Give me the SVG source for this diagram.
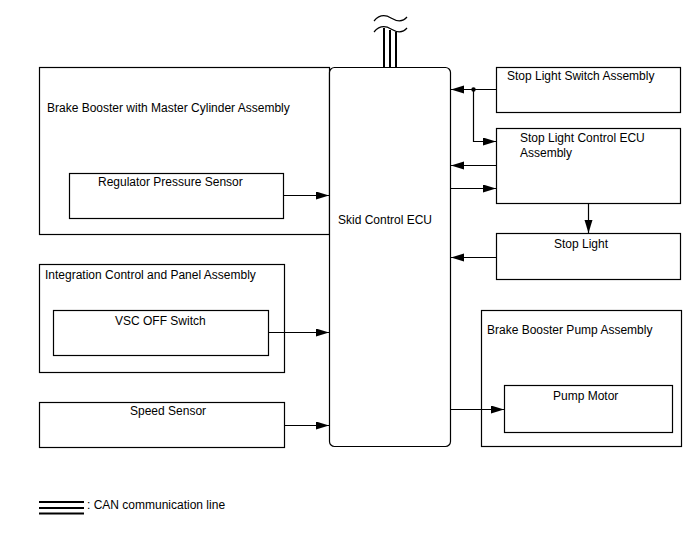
<svg xmlns="http://www.w3.org/2000/svg" width="688" height="560" viewBox="0 0 688 560">
<defs>
<style>
.b{fill:#fff;stroke:#000;stroke-width:1.2}
.c{fill:none;stroke:#000;stroke-width:1.2}
.t{font-family:"Liberation Sans",Arial,sans-serif;font-size:12px;fill:#000}
</style>
<marker id="a" markerWidth="14" markerHeight="10" refX="13" refY="4" orient="auto" markerUnits="userSpaceOnUse">
<path d="M0,0 L13,4 L0,8 Z" fill="#000"/>
</marker>
</defs>
<rect width="688" height="560" fill="#fff"/>
<g id="brake-booster"><rect class="b" x="39.5" y="67.5" width="290" height="167"/><text class="t" x="47" y="112">Brake Booster with Master Cylinder Assembly</text></g>
<g id="regulator"><rect class="b" x="69.5" y="173.5" width="214" height="45"/><text class="t" x="98" y="186">Regulator Pressure Sensor</text></g>
<g id="integration"><rect class="b" x="39.5" y="264.5" width="245" height="108"/><text class="t" x="45" y="279">Integration Control and Panel Assembly</text></g>
<g id="vsc"><rect class="b" x="53.5" y="310.5" width="215" height="45"/><text class="t" x="115" y="325">VSC OFF Switch</text></g>
<g id="speed"><rect class="b" x="39.5" y="402.5" width="245" height="45"/><text class="t" x="130" y="415">Speed Sensor</text></g>
<g id="skid-ecu"><rect class="b" x="329.5" y="67.5" width="121" height="379" rx="5"/><text class="t" x="338" y="224">Skid Control ECU</text></g>
<g id="stop-switch"><rect class="b" x="496.5" y="67.5" width="184" height="45"/><text class="t" x="507" y="80">Stop Light Switch Assembly</text></g>
<g id="stop-ecu"><rect class="b" x="496.5" y="128.5" width="184" height="75"/><text class="t" x="520" y="142">Stop Light Control ECU</text><text class="t" x="520" y="157">Assembly</text></g>
<g id="stop-light"><rect class="b" x="496.5" y="233.5" width="184" height="46"/><text class="t" x="554" y="248">Stop Light</text></g>
<g id="pump-assy"><rect class="b" x="481.5" y="310.5" width="200" height="136"/><text class="t" x="487" y="334">Brake Booster Pump Assembly</text></g>
<g id="pump-motor"><rect class="b" x="504.5" y="385.5" width="168" height="47"/><text class="t" x="553" y="400">Pump Motor</text></g>
<g id="connectors">
<line class="c" x1="284" y1="195.5" x2="329" y2="195.5" marker-end="url(#a)"/>
<line class="c" x1="269" y1="332.5" x2="329" y2="332.5" marker-end="url(#a)"/>
<line class="c" x1="285" y1="425.5" x2="329" y2="425.5" marker-end="url(#a)"/>
<line class="c" x1="496" y1="89.5" x2="451" y2="89.5" marker-end="url(#a)"/>
<circle cx="473.5" cy="89.5" r="2.2" fill="#000"/>
<polyline class="c" points="473.5,89.5 473.5,141.5 496,141.5" marker-end="url(#a)"/>
<line class="c" x1="496" y1="165.5" x2="451" y2="165.5" marker-end="url(#a)"/>
<line class="c" x1="451" y1="188.5" x2="496" y2="188.5" marker-end="url(#a)"/>
<line class="c" x1="588.5" y1="204" x2="588.5" y2="233" marker-end="url(#a)"/>
<line class="c" x1="496" y1="257.5" x2="451" y2="257.5" marker-end="url(#a)"/>
<line class="c" x1="451" y1="409.5" x2="504" y2="409.5" marker-end="url(#a)"/>
<g stroke="#000" stroke-width="2" fill="none">
<line x1="384" y1="28" x2="384" y2="67"/>
<line x1="390" y1="30" x2="390" y2="67"/>
<line x1="396" y1="32" x2="396" y2="67"/>
</g>
<path d="M374,21 C380,14 386,15 391,18 S402,23 407,17" fill="none" stroke="#000" stroke-width="1.2"/>
<path d="M374,32 C380,25 386,26 391,29 S402,34 407,28" fill="none" stroke="#000" stroke-width="1.2"/>
</g>
<g id="legend">
<g stroke="#000" stroke-width="2"><line x1="39" y1="502" x2="84" y2="502"/><line x1="39" y1="508" x2="84" y2="508"/><line x1="39" y1="513.5" x2="84" y2="513.5"/></g>
<text class="t" x="87" y="509">: CAN communication line</text>
</g>
</svg>
